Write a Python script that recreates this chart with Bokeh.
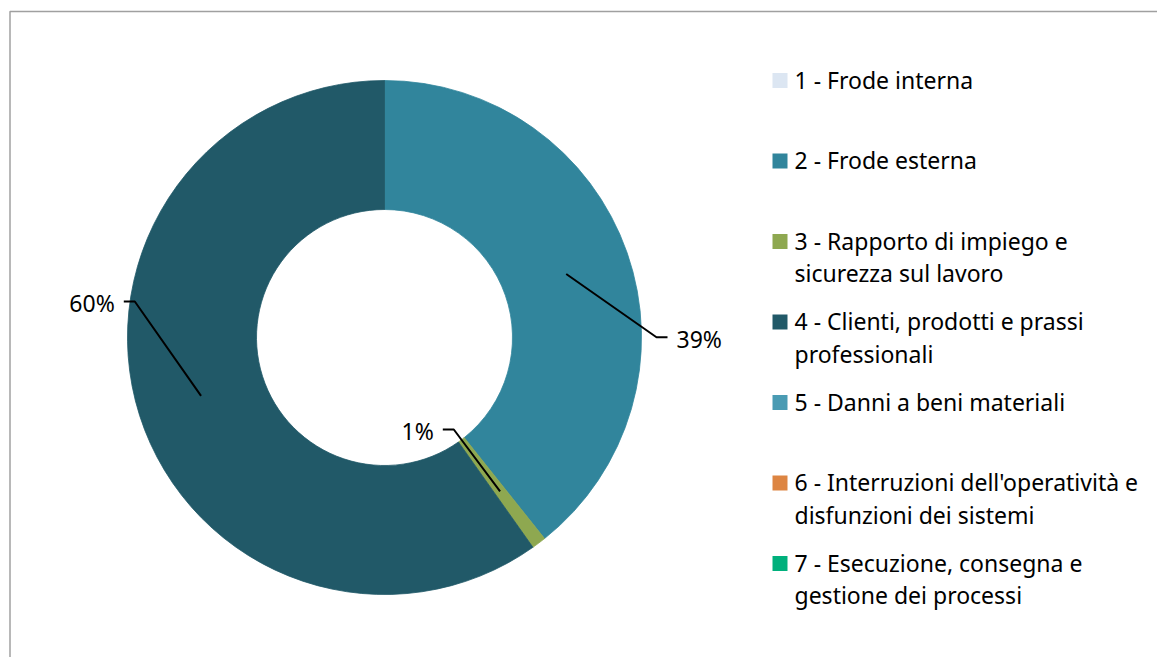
import math
import numpy as np
from bokeh.plotting import figure
from bokeh.models import Range1d
from bokeh.core.properties import value
from bokeh.embed import file_html
from bokeh.resources import INLINE

# ---------------- data ----------------
categories = [
    "1 - Frode interna",
    "2 - Frode esterna",
    "3 - Rapporto di impiego e\nsicurezza sul lavoro",
    "4 - Clienti, prodotti e prassi\nprofessionali",
    "5 - Danni a beni materiali",
    "6 - Interruzioni dell'operatività e\ndisfunzioni dei sistemi",
    "7 - Esecuzione, consegna e\ngestione dei processi",
]
values = [0.0, 39.3, 0.9, 59.8, 0.0, 0.0, 0.0]
colors = ["#DCE6F2", "#31859C", "#8EA850", "#215968", "#4A9BB3", "#DD8542", "#00B07C"]

# ---------------- layout (pixels) ----------------
W, H = 1157, 657
def sx(X):  # screenshot x -> data x
    return X
def sy(Y):  # screenshot y -> data y (y up)
    return H - Y

FONT = value("Noto Sans")
FS = "23px"
TXT_SHIFT = 9  # empirical baseline correction

p = figure(width=W, height=H, output_backend="svg", toolbar_location=None,
           x_range=Range1d(0, W), y_range=Range1d(0, H), min_border=0)
p.axis.visible = False
p.grid.visible = False
p.outline_line_color = None
p.background_fill_color = "white"
p.border_fill_color = "white"

# chart frame (only left/top edges visible in the window)
p.line(x=[sx(9.5), sx(9.5), W + 5], y=[-5, sy(11), sy(11)], line_color="#a0a0a0", line_width=1.5)

# ---------------- donut ----------------
cx, cy = sx(384), sy(337)
r_in, r_out = 128, 257
total = sum(values)
cum = np.cumsum([0.0] + values)
th1 = cum[:-1] / total * 2 * math.pi
th2 = cum[1:] / total * 2 * math.pi
idx = [i for i, v in enumerate(values) if v > 0]

p.annular_wedge(x=cx, y=cy, inner_radius=r_in, outer_radius=r_out,
                start_angle=[math.pi / 2 - th2[i] for i in idx],
                end_angle=[math.pi / 2 - th1[i] for i in idx],
                fill_color=[colors[i] for i in idx],
                line_color=[colors[i] for i in idx], line_width=0.8,
                direction="anticlock")

# ---------------- data labels with leader lines ----------------
label_elbow = {1: (sx(656), sy(336.7)), 2: (sx(453.3), sy(429)), 3: (sx(134.3), sy(301))}
label_side = {1: "right", 2: "left", 3: "left"}
r_mid = (r_in + r_out) / 2
xs, ys, tx, ty, tt, ta = [], [], [], [], [], []
for i in idx:
    mid = (th1[i] + th2[i]) / 2
    ax = cx + r_mid * math.sin(mid)
    ay = cy + r_mid * math.cos(mid)
    ex, ey = label_elbow[i]
    sgn = 1 if label_side[i] == "right" else -1
    hx = ex + sgn * 11
    xs.append([ax, ex, hx]); ys.append([ay, ey, ey])
    tx.append(hx + sgn * 9); ty.append(ey - 10.5 + TXT_SHIFT)
    tt.append(f"{round(values[i] / total * 100)}%")
    ta.append("left" if sgn > 0 else "right")

p.multi_line(xs=xs, ys=ys, line_color="black", line_width=2)
for x0, y0, t, a in zip(tx, ty, tt, ta):
    p.text(x=[x0], y=[y0], text=[t], text_align=a, text_baseline="alphabetic",
           text_font=FONT, text_font_size=FS, text_color="black")

# ---------------- legend ----------------
leg_x_sq = sx(779.5)
leg_x_txt = sx(794)
leg_y0 = 80.0
leg_step = 80.5
line_gap = 32.5
lx, ly, lt = [], [], []
for k, cat in enumerate(categories):
    yc = leg_y0 + k * leg_step
    p.rect(x=[leg_x_sq], y=[sy(yc)], width=15, height=15,
           fill_color=colors[k], line_color=None)
    for j, line in enumerate(cat.split("\n")):
        lx.append(leg_x_txt); ly.append(sy(yc + 8.3 + j * line_gap) + TXT_SHIFT); lt.append(line)

p.text(x=lx, y=ly, text=lt, text_align="left", text_baseline="alphabetic",
       text_font=FONT, text_font_size=FS, text_color="black")

open("out.html", "w").write(file_html(p, INLINE))
